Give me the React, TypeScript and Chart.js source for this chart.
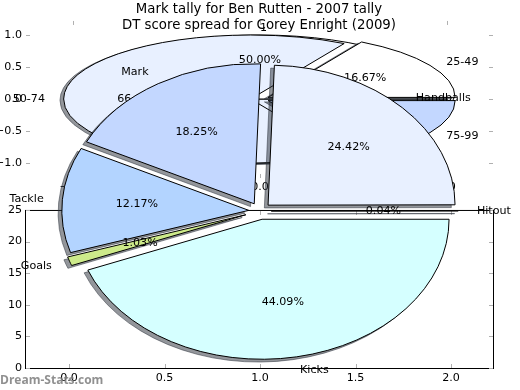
import React, { useEffect, useRef } from 'react';
import { Chart, registerables } from 'chart.js';

Chart.register(...registerables);

// ---------------- data ----------------
const BACK_TITLE = 'Mark tally for Ben Rutten - 2007 tally';
const FRONT_TITLE = 'DT score spread for Corey Enright (2009)';

// back pie drawn first (mostly hidden)
const RUTTEN_A_LABELS = ['1', ''];
const RUTTEN_A_VALUES = [1, 1];
const RUTTEN_A_COLORS = ['#ffffff', '#e8f0ff'];
const RUTTEN_A_EXPLODE = [0, 0];

// back pie drawn on top of it
const RUTTEN_B_LABELS = ['25-49', '50-74', '75-99'];
const RUTTEN_B_VALUES = [1, 4, 1];
const RUTTEN_B_COLORS = ['#ffffff', '#e8f0ff', '#c3d7ff'];
const RUTTEN_B_EXPLODE = [0.05, 0.05, 0.05];

// front pie
const ENRIGHT_LABELS = ['Hitout', 'Handballs', 'Mark', 'Tackle', 'Goals', 'Kicks'];
const ENRIGHT_VALUES = [0.04, 24.42, 18.25, 12.17, 1.03, 44.09];
const ENRIGHT_COLORS = ['#ffffff', '#e8f0ff', '#c3d7ff', '#b3d4ff', '#cdea8a', '#d5ffff'];
const ENRIGHT_EXPLODE = [0.06, 0.06, 0.06, 0.06, 0.08, 0.06];

const BACK_X_TICKS = [-1, 0, 1];
const BACK_Y_TICKS = [-1, -0.5, 0, 0.5, 1];
const FRONT_X_TICKS = [0, 0.5, 1, 1.5, 2];
const FRONT_Y_TICKS = [0, 5, 10, 15, 20, 25];
const WATERMARK = 'Dream-Stats.com';

// ---------------- styling ----------------
const FONT = '"DejaVu Sans", sans-serif';
const TEXT_PX = 11.1;
const TITLE_PX = 13.3;
const TICK_COLOR = '#b0b0b0';
const SHADOW_COLOR = 'rgba(40,45,55,0.5)';
const FAR = 2000;

const minusFmt = (s: string) => s.replace('-', '\u2212');

type PieCfg = {
  labels: string[];
  values: number[];
  colors: string[];
  explode: number[];
  radius: number;
  k: number;
  shadow: [number, number];
  padding: { top: number; bottom: number; left: number; right: number };
};

const RUTTEN_A: PieCfg = {
  labels: RUTTEN_A_LABELS, values: RUTTEN_A_VALUES, colors: RUTTEN_A_COLORS, explode: RUTTEN_A_EXPLODE,
  radius: 187, k: 64 / 187, shadow: [-3.7, 1.3], padding: { top: 0, bottom: 192, left: 0, right: 0 },
};
const RUTTEN_B: PieCfg = {
  labels: RUTTEN_B_LABELS, values: RUTTEN_B_VALUES, colors: RUTTEN_B_COLORS, explode: RUTTEN_B_EXPLODE,
  radius: 187, k: 64 / 187, shadow: [-3.7, 1.3], padding: { top: 0, bottom: 192, left: 0, right: 0 },
};
const ENRIGHT: PieCfg = {
  labels: ENRIGHT_LABELS, values: ENRIGHT_VALUES, colors: ENRIGHT_COLORS, explode: ENRIGHT_EXPLODE,
  radius: 187, k: 140 / 187, shadow: [-3.7, 2.8], padding: { top: 32, bottom: 0, left: 0, right: 0 },
};

function pieCenter(chart: any) {
  const ca = chart.chartArea;
  return { cx: (ca.left + ca.right) / 2, cy: (ca.top + ca.bottom) / 2 };
}

function ellipse(ctx: CanvasRenderingContext2D, cx: number, cy: number, k: number) {
  ctx.translate(cx, cy);
  ctx.scale(1, k);
  ctx.translate(-cx, -cy);
}

const protoStroke = CanvasRenderingContext2D.prototype.stroke;
function patchStroke(ctx: any) {
  ctx.stroke = function (...args: any[]) {
    this.save();
    this.setTransform(1, 0, 0, 1, 0, 0);
    (protoStroke as any).apply(this, args);
    this.restore();
  };
}
function unpatchStroke(ctx: any) {
  delete ctx.stroke;
}

function drawPieLabels(ctx: CanvasRenderingContext2D, chart: any, cfg: PieCfg) {
  const { cx, cy } = pieCenter(chart);
  const arcs = chart.getDatasetMeta(0).data;
  const n = arcs.length;
  const total = cfg.values.reduce((a, b) => a + b, 0);
  ctx.save();
  ctx.font = `${TEXT_PX}px ${FONT}`;
  ctx.fillStyle = '#000';
  ctx.textBaseline = 'middle';
  arcs.forEach((arc: any, j: number) => {
    const i = n - 1 - j;
    const label = cfg.labels[i];
    if (!label) return;
    const mid = (arc.startAngle + arc.endAngle) / 2;
    const o = cfg.explode[i] * cfg.radius;
    const c = Math.cos(mid);
    const s = Math.sin(mid);
    const lr = o + 1.1 * cfg.radius;
    ctx.textAlign = c > -1e-9 ? 'left' : 'right';
    ctx.fillText(label, cx + lr * c, cy + cfg.k * lr * s);
    const pr = o + 0.6 * cfg.radius;
    ctx.textAlign = 'center';
    ctx.fillText(((cfg.values[i] / total) * 100).toFixed(2) + '%', cx + pr * c, cy + cfg.k * pr * s);
  });
  ctx.restore();
}

function makePie(
  canvas: HTMLCanvasElement,
  cfg: PieCfg,
  labelSets: () => Array<{ chart: any; cfg: PieCfg }>,
  extraDraw?: (chart: any) => void
) {
  const rev = <T,>(a: T[]) => a.slice().reverse();
  const plugin = {
    id: 'ellipsePie',
    afterDatasetsUpdate(chart: any) {
      const { cx, cy } = pieCenter(chart);
      const arcs = chart.getDatasetMeta(0).data;
      const n = arcs.length;
      arcs.forEach((arc: any, j: number) => {
        const o = cfg.explode[n - 1 - j] * cfg.radius;
        const mid = (arc.startAngle + arc.endAngle) / 2;
        arc.x = cx + o * Math.cos(mid);
        arc.y = cy + o * Math.sin(mid);
      });
    },
    beforeDatasetsDraw(chart: any) {
      const ctx = chart.ctx;
      const { cx, cy } = pieCenter(chart);
      const arcs = chart.getDatasetMeta(0).data;
      patchStroke(ctx);
      // shadow pass (all shadows below all wedges)
      ctx.save();
      ctx.translate(-FAR, 0);
      ellipse(ctx, cx, cy, cfg.k);
      ctx.shadowColor = SHADOW_COLOR;
      ctx.shadowBlur = 0;
      ctx.shadowOffsetX = FAR + cfg.shadow[0];
      ctx.shadowOffsetY = cfg.shadow[1];
      arcs.forEach((a: any) => a.draw(ctx));
      ctx.restore();
      // main pass
      ctx.save();
      ellipse(ctx, cx, cy, cfg.k);
    },
    afterDatasetsDraw(chart: any) {
      const ctx = chart.ctx;
      ctx.restore();
      unpatchStroke(ctx);
      labelSets().forEach((ls) => drawPieLabels(ctx, ls.chart, ls.cfg));
    },
    afterDraw(chart: any) {
      if (extraDraw) extraDraw(chart);
    },
  };
  return new Chart(canvas, {
    type: 'pie',
    data: {
      labels: rev(cfg.labels),
      datasets: [
        {
          data: rev(cfg.values),
          backgroundColor: rev(cfg.colors),
          borderColor: '#000',
          borderWidth: 1,
          borderJoinStyle: 'miter',
          radius: cfg.radius,
          rotation: 90,
        } as any,
      ],
    },
    options: {
      responsive: false,
      animation: false,
      devicePixelRatio: 1,
      events: [],
      layout: { padding: cfg.padding },
      plugins: { legend: { display: false }, tooltip: { enabled: false }, title: { display: false } },
    } as any,
    plugins: [plugin as any],
  });
}

type AxesCfg = {
  title: string;
  titleTop: number;
  titleBottom: number;
  padding: { top: number; bottom: number; left: number; right: number };
  xMin: number; xMax: number; yMin: number; yMax: number;
  xTicks: number[]; yTicks: number[];
  xFmt: (v: number) => string; yFmt: (v: number) => string;
  frame: boolean;
  xLabelOffset: number;
};

function makeAxes(canvas: HTMLCanvasElement, o: AxesCfg) {
  const plugin = {
    id: 'mplAxes',
    afterDraw(chart: any) {
      const { ctx, chartArea: ca, scales } = chart;
      const xs = scales.x;
      const ys = scales.y;
      ctx.save();
      ctx.lineWidth = 1;
      if (o.frame) {
        ctx.strokeStyle = '#000';
        ctx.strokeRect(ca.left + 0.5, ca.top + 0.5, ca.right - ca.left, ca.bottom - ca.top);
      }
      ctx.strokeStyle = TICK_COLOR;
      ctx.beginPath();
      o.yTicks.forEach((v) => {
        const py = Math.round(ys.getPixelForValue(v)) + 0.5;
        ctx.moveTo(ca.left + 1, py); ctx.lineTo(ca.left + 5, py);
        ctx.moveTo(ca.right - 4, py); ctx.lineTo(ca.right, py);
      });
      o.xTicks.forEach((v) => {
        const px = Math.round(xs.getPixelForValue(v)) + 0.5;
        ctx.moveTo(px, ca.bottom); ctx.lineTo(px, ca.bottom - 4);
        ctx.moveTo(px, ca.top + 1); ctx.lineTo(px, ca.top + 5);
      });
      ctx.stroke();
      ctx.fillStyle = '#000';
      ctx.font = `${TEXT_PX}px ${FONT}`;
      ctx.textAlign = 'right';
      ctx.textBaseline = 'middle';
      o.yTicks.forEach((v) => ctx.fillText(o.yFmt(v), ca.left - 3, ys.getPixelForValue(v)));
      ctx.textAlign = 'center';
      o.xTicks.forEach((v) => ctx.fillText(o.xFmt(v), xs.getPixelForValue(v), ca.bottom + o.xLabelOffset));
      ctx.restore();
    },
  };
  return new Chart(canvas, {
    type: 'scatter',
    data: { datasets: [] },
    options: {
      responsive: false,
      animation: false,
      devicePixelRatio: 1,
      events: [],
      layout: { padding: o.padding },
      scales: {
        x: { type: 'linear', display: false, min: o.xMin, max: o.xMax },
        y: { type: 'linear', display: false, min: o.yMin, max: o.yMax },
      },
      plugins: {
        legend: { display: false },
        tooltip: { enabled: false },
        title: {
          display: true,
          text: o.title,
          color: '#000',
          font: { family: FONT, size: TITLE_PX, weight: 'normal', lineHeight: 1.2 },
          padding: { top: o.titleTop, bottom: o.titleBottom },
        },
      },
    } as any,
    plugins: [plugin as any],
  });
}

export default function App() {
  const c0 = useRef<HTMLCanvasElement>(null);
  const c1 = useRef<HTMLCanvasElement>(null);
  const c2 = useRef<HTMLCanvasElement>(null);
  const c3 = useRef<HTMLCanvasElement>(null);
  const c4 = useRef<HTMLCanvasElement>(null);

  useEffect(() => {
    document.body.style.margin = '0';
    const charts: Chart[] = [];
    charts.push(
      makeAxes(c0.current!, {
        title: BACK_TITLE, titleTop: 2, titleBottom: 2,
        padding: { top: 0, bottom: 212, left: 25, right: 27 },
        xMin: -1.257, xMax: 1.246, yMin: -1.234, yMax: 1.234,
        xTicks: BACK_X_TICKS, yTicks: BACK_Y_TICKS,
        xFmt: (v) => minusFmt(v.toFixed(1)), yFmt: (v) => minusFmt(v.toFixed(1)),
        frame: false, xLabelOffset: 9,
      })
    );
    const pieA = makePie(c1.current!, RUTTEN_A, () => []);
    charts.push(pieA);
    let pieB: any = null;
    pieB = makePie(c2.current!, RUTTEN_B, () =>
      pieB ? [{ chart: pieA, cfg: RUTTEN_A }, { chart: pieB, cfg: RUTTEN_B }] : []
    );
    charts.push(pieB);
    pieB.draw();
    charts.push(
      makeAxes(c3.current!, {
        title: FRONT_TITLE, titleTop: 18, titleBottom: 176,
        padding: { top: 0, bottom: 22, left: 25, right: 27 },
        xMin: -0.2304, xMax: 2.2199, yMin: 0, yMax: 25,
        xTicks: FRONT_X_TICKS, yTicks: FRONT_Y_TICKS,
        xFmt: (v) => v.toFixed(1), yFmt: (v) => String(v),
        frame: true, xLabelOffset: 10,
      })
    );
    let front: any = null;
    front = makePie(
      c4.current!,
      ENRIGHT,
      () => (front ? [{ chart: front, cfg: ENRIGHT }] : []),
      (chart) => {
        const ctx = chart.ctx;
        ctx.save();
        ctx.font = `bold 12px "Open Sans", sans-serif`;
        ctx.fillStyle = 'rgba(125,125,125,0.85)';
        ctx.textAlign = 'left';
        ctx.textBaseline = 'middle';
        ctx.fillText(WATERMARK, 0, 381);
        ctx.restore();
      }
    );
    charts.push(front);
    front.draw();
    return () => charts.forEach((c) => c.destroy());
  }, []);

  const st: React.CSSProperties = { position: 'absolute', left: 0, top: 0 };
  return (
    <div style={{ position: 'fixed', left: 0, top: 0, width: 520, height: 390, background: '#fff', overflow: 'hidden' }}>
      <canvas ref={c0} width={520} height={390} style={st} />
      <canvas ref={c1} width={520} height={390} style={st} />
      <canvas ref={c2} width={520} height={390} style={st} />
      <canvas ref={c3} width={520} height={390} style={st} />
      <canvas ref={c4} width={520} height={390} style={st} />
    </div>
  );
}
